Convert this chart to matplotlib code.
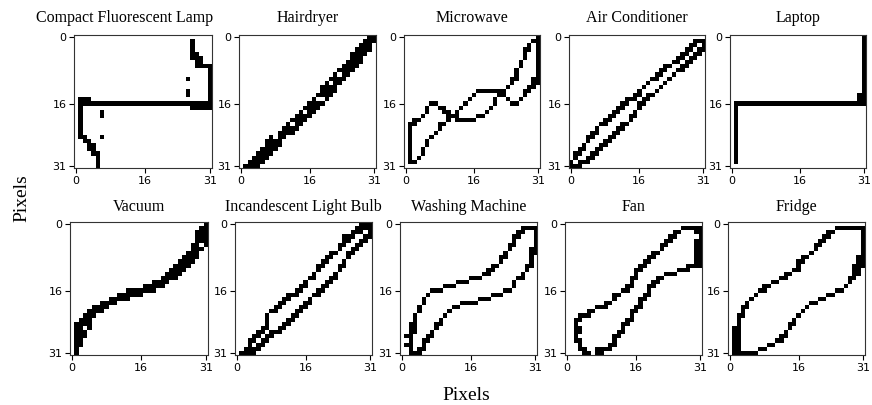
import numpy as np
import matplotlib
matplotlib.use("Agg")
import matplotlib.pyplot as plt

# ---------------- data: black pixel runs per row (row 0 at top) ----------------
titles = ["Compact Fluorescent Lamp", "Hairdryer", "Microwave", "Air Conditioner", "Laptop",
          "Vacuum", "Incandescent Light Bulb", "Washing Machine", "Fan", "Fridge"]
tick_values = [0, 16, 31]

cfl = [
    [], [(27, 27)], [(27, 27)], [(27, 27)], [(27, 28)], [(27, 29)], [(28, 29)], [(28, 31)],
    [(31, 31)], [(31, 31)], [(26, 26), (31, 31)], [(31, 31)], [(31, 31)],
    [(26, 26), (31, 31)], [(26, 26), (31, 31)], [(1, 3), (31, 31)], [(1, 31)],
    [(1, 1), (27, 31)], [(1, 1), (6, 6)], [(1, 1), (6, 6)], [(1, 1)], [(1, 1)], [(1, 1)],
    [(1, 1)], [(1, 2), (6, 6)], [(2, 3)], [(3, 4)], [(3, 4)], [(4, 5)], [(5, 5)], [(5, 5)],
    [(5, 5)],
]

hairdryer = [
    [(30, 31)], [(29, 31)], [(28, 30)], [(27, 30)], [(26, 29)], [(26, 28)], [(25, 28)],
    [(24, 27)], [(23, 26)], [(22, 22), (24, 25)], [(21, 24)], [(20, 20), (22, 23)],
    [(19, 22)], [(19, 22)], [(18, 21)], [(17, 17), (20, 20)], [(16, 19)], [(15, 18)],
    [(14, 14), (16, 17)], [(13, 16)], [(12, 15)], [(11, 11), (13, 14)], [(10, 13)],
    [(9, 12)], [(7, 7), (9, 10)], [(6, 9)], [(6, 9)], [(5, 8)], [(4, 7)], [(3, 6)],
    [(2, 5)], [(1, 4)],
]

microwave = [
    [(31, 31)], [(30, 31)], [(29, 29), (31, 31)], [(28, 29), (31, 31)], [(28, 28), (31, 31)],
    [(28, 28), (31, 31)], [(27, 27), (31, 31)], [(27, 27), (31, 31)], [(26, 26), (31, 31)],
    [(26, 26), (31, 31)], [(25, 26), (30, 31)], [(25, 25), (30, 31)], [(24, 24), (29, 30)],
    [(17, 23), (28, 29)], [(16, 16), (22, 23), (28, 28)], [(15, 15), (21, 21), (24, 24), (27, 27)],
    [(6, 7), (14, 14), (21, 21), (25, 26)], [(5, 5), (8, 9), (13, 13), (20, 20)],
    [(5, 5), (9, 10), (12, 12), (19, 19)], [(4, 4), (10, 12), (17, 18)],
    [(2, 3), (10, 10), (12, 16)], [(1, 2), (8, 9)], [(1, 1), (8, 8)], [(1, 1), (7, 7)],
    [(1, 1), (6, 6)], [(1, 1), (5, 5)], [(1, 1), (5, 5)], [(1, 1), (4, 4)], [(1, 1), (4, 4)],
    [(1, 1), (3, 3)], [(1, 2)], [],
]

air_conditioner = [
    [], [(29, 31)], [(28, 29), (31, 31)], [(27, 28), (30, 31)], [(26, 27), (29, 30)],
    [(25, 26), (28, 29)], [(24, 25), (27, 28)], [(22, 23), (26, 27)], [(21, 22), (25, 26)],
    [(20, 21), (24, 24)], [(19, 20), (23, 23)], [(18, 18), (22, 22)], [(17, 17), (21, 21)],
    [(16, 16), (20, 20)], [(15, 16), (18, 19)], [(13, 15), (17, 18)], [(12, 13), (16, 17)],
    [(11, 12), (16, 16)], [(10, 11), (15, 15)], [(9, 10), (14, 15)], [(8, 9), (14, 14)],
    [(7, 8), (12, 13)], [(6, 6), (11, 12)], [(5, 6), (10, 11)], [(4, 5), (9, 10)],
    [(4, 4), (8, 9)], [(3, 3), (7, 8)], [(2, 3), (6, 7)], [(1, 2), (5, 6)], [(1, 1), (4, 5)],
    [(0, 0), (2, 4)], [(0, 2)],
]

laptop = ([[(31, 31)]] * 14 + [[(30, 31)]] * 2 + [[(1, 31)]] + [[(1, 1)]] * 14 + [[]])

vacuum = [
    [(31, 31)], [(30, 31)], [(29, 31)], [(29, 31)], [(29, 31)], [(28, 29), (31, 31)],
    [(28, 30)], [(27, 29)], [(26, 29)], [(25, 28)], [(24, 27)], [(23, 26)], [(22, 25)],
    [(21, 24)], [(19, 22)], [(17, 21)], [(13, 19)], [(11, 16)], [(9, 13)], [(7, 10)],
    [(5, 8)], [(4, 7)], [(3, 5)], [(2, 4)], [(1, 4)], [(1, 2), (4, 4)], [(1, 3)], [(1, 3)],
    [(1, 2)], [(1, 2)], [(1, 1)], [(1, 1)],
]

incandescent = [
    [(29, 31)], [(28, 31)], [(27, 29), (31, 31)], [(25, 27), (30, 31)], [(25, 26), (29, 30)],
    [(24, 25), (28, 29)], [(24, 24), (27, 28)], [(22, 23), (26, 27)], [(21, 22), (26, 26)],
    [(20, 21), (25, 25)], [(19, 20), (24, 25)], [(19, 19), (24, 24)], [(18, 18), (23, 23)],
    [(17, 18), (22, 23)], [(16, 16), (21, 22)], [(15, 16), (20, 21)], [(14, 15), (19, 20)],
    [(12, 14), (18, 19)], [(11, 12), (17, 17)], [(10, 11), (16, 17)], [(9, 10), (15, 16)],
    [(8, 9), (14, 15)], [(7, 7), (13, 14)], [(7, 7), (12, 13)], [(7, 7), (11, 12)],
    [(6, 7), (10, 11)], [(5, 6), (8, 10)], [(4, 5), (7, 8)], [(3, 4), (6, 7)],
    [(3, 3), (5, 6)], [(2, 5)], [(1, 4)],
]

washing_machine = [
    [], [(28, 31)], [(27, 28), (31, 31)], [(26, 27), (31, 31)], [(26, 26), (31, 31)],
    [(25, 26), (31, 31)], [(25, 25), (30, 31)], [(24, 24), (30, 31)], [(23, 24), (30, 30)],
    [(23, 23), (30, 30)], [(21, 22), (29, 30)], [(20, 21), (29, 29)], [(19, 20), (28, 28)],
    [(16, 18), (27, 28)], [(13, 15), (26, 26)], [(10, 12), (26, 26)], [(7, 9), (24, 25)],
    [(6, 6), (21, 23)], [(5, 5), (18, 20)], [(5, 5), (14, 17)], [(4, 4), (12, 13)],
    [(4, 4), (11, 11)], [(3, 3), (10, 10)], [(3, 3), (9, 9)], [(2, 3), (8, 9)],
    [(2, 3), (8, 8)], [(2, 3), (7, 7)], [(1, 2), (6, 7)], [(2, 2), (5, 6)],
    [(1, 2), (5, 5)], [(2, 2), (4, 5)], [(2, 4)],
]

fan = [
    [], [(27, 31)], [(25, 26), (30, 31)], [(24, 25), (31, 31)], [(23, 24), (30, 31)],
    [(22, 23), (30, 31)], [(22, 22), (30, 31)], [(20, 21), (30, 31)], [(19, 20), (30, 31)],
    [(18, 19), (30, 31)], [(17, 18), (28, 31)], [(16, 17), (26, 28)], [(16, 16), (23, 25)],
    [(15, 16), (21, 22)], [(15, 15), (20, 21)], [(14, 15), (19, 20)], [(13, 14), (19, 19)],
    [(11, 12), (18, 19)], [(11, 11), (17, 18)], [(9, 10), (17, 17)], [(7, 9), (16, 17)],
    [(5, 6), (15, 16)], [(3, 5), (15, 15)], [(2, 3), (14, 15)], [(2, 2), (13, 14)],
    [(2, 3), (13, 13)], [(2, 3), (12, 13)], [(2, 2), (11, 12)], [(2, 3), (11, 11)],
    [(3, 3), (10, 11)], [(3, 4), (7, 10)], [(4, 5), (7, 8)],
]

fridge = [
    [], [(25, 31)], [(23, 24), (31, 31)], [(22, 23), (31, 31)], [(21, 22), (31, 31)],
    [(20, 21), (31, 31)], [(20, 20), (31, 31)], [(19, 19), (31, 31)], [(17, 18), (30, 31)],
    [(16, 17), (30, 31)], [(16, 16), (29, 31)], [(15, 16), (29, 30)], [(13, 14), (29, 30)],
    [(12, 13), (28, 29)], [(10, 11), (28, 28)], [(8, 9), (27, 27)], [(7, 8), (25, 26)],
    [(6, 6), (23, 24)], [(5, 5), (21, 22)], [(4, 4), (19, 20)], [(3, 4), (18, 18)],
    [(3, 3), (17, 17)], [(2, 3), (16, 16)], [(2, 2), (15, 15)], [(2, 2), (14, 15)],
    [(1, 2), (14, 14)], [(1, 2), (13, 13)], [(1, 2), (12, 13)], [(1, 2), (11, 12)],
    [(1, 2), (9, 10)], [(1, 2), (7, 8)], [(1, 6)],
]

panels = [cfl, hairdryer, microwave, air_conditioner, laptop,
          vacuum, incandescent, washing_machine, fan, fridge]


def to_image(runs):
    img = np.zeros((32, 32))
    for r, segs in enumerate(runs):
        for a, b in segs:
            img[r, a:b + 1] = 1
    return img


# ---------------- layout ----------------
W, H = 872, 405
fig = plt.figure(figsize=(W / 100, H / 100), dpi=100)

lefts = [74, 239, 404, 569, 730, 70, 235, 400, 565, 728]
rights = [212, 376, 540, 705, 866, 208, 372, 537, 702, 865]
tops = [35] * 5 + [222] * 5
bottoms = [168] * 5 + [355] * 5
title_y = [18] * 5 + [207] * 5
title_x = [125, None, None, None, None, None, None, None, None, None]

serif = ["Liberation Serif", "DejaVu Serif"]

for i, runs in enumerate(panels):
    x0, x1, y0, y1 = lefts[i], rights[i], tops[i], bottoms[i]
    ax = fig.add_axes([x0 / W, 1 - y1 / H, (x1 - x0) / W, (y1 - y0) / H])
    ax.imshow(to_image(runs), cmap="binary", vmin=0, vmax=1,
              interpolation="nearest", aspect="auto")
    ax.set_xticks(tick_values)
    ax.set_yticks(tick_values)
    ax.tick_params(labelsize=8, length=3.5, width=0.8, pad=2)
    for sp in ax.spines.values():
        sp.set_linewidth(0.8)
        sp.set_color("#333333")
    tx = title_x[i] if title_x[i] is not None else (x0 + x1) / 2
    fig.text(tx / W, 1 - title_y[i] / H, titles[i], ha="center", va="center",
             fontsize=11.5, family=serif)

fig.text(466 / W, 1 - 395 / H, "Pixels", ha="center", va="center",
         fontsize=14, family=serif)
fig.text(22 / W, 1 - 198 / H, "Pixels", ha="center", va="center",
         fontsize=14, family=serif, rotation=90)

fig.savefig("out.png", dpi=100)
